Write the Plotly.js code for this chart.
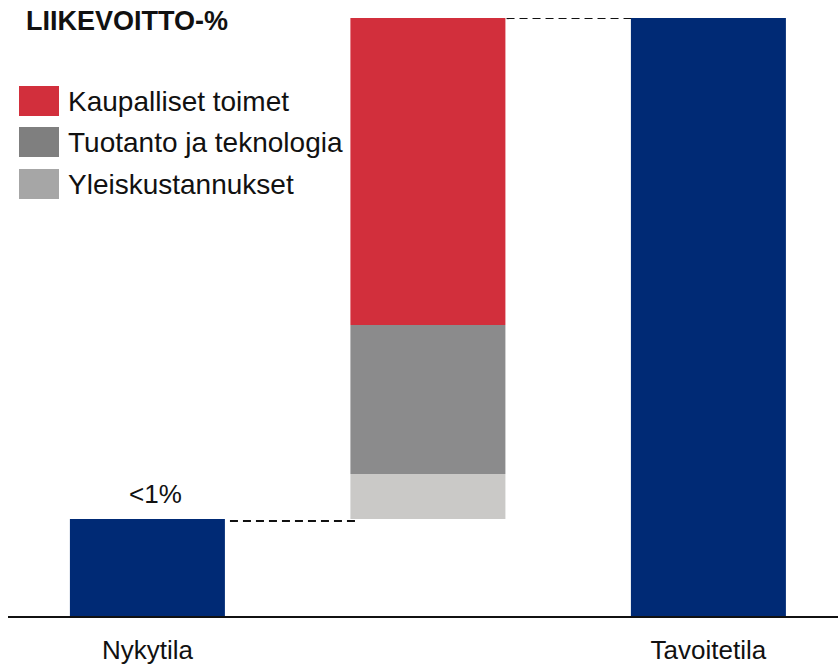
<!DOCTYPE html>
<html>
<head>
<meta charset="utf-8">
<script src="https://cdn.plot.ly/plotly-3.0.1.min.js"></script>
<style>
  html, body { margin: 0; padding: 0; background: #fff; }
  #chart { width: 838px; height: 665px; }
</style>
</head>
<body>
<div id="chart"></div>
<script>
// ---- Data ----
var chartTitle = 'LIIKEVOITTO-%';
var categories = ['Nykytila', '', 'Tavoitetila'];
var currentValue = 0.97;     // Nykytila (<1%)
var targetValue = 5.98;      // Tavoitetila
var stepNames = ['Yleiskustannukset', 'Tuotanto ja teknologia', 'Kaupalliset toimet'];
var stepValues = [0.45, 1.49, 3.07];
var currentLabel = '<1%';

// ---- Styles ----
var navy = '#002a75';
var barColors = ['#cac9c7', '#8b8b8c', '#d22f3c'];
var legendColors = ['#a6a6a6', '#7f7f7f', '#d22f3c'];
var font = 'Liberation Sans, Arial, sans-serif';
var textColor = '#111111';
var W = 0.5526;

var traces = [];
traces.push({
  type: 'bar', x: [0, 2], y: [currentValue, targetValue], base: [0, 0],
  width: W, marker: {color: navy, line: {width: 0}}, showlegend: false, hoverinfo: 'none'
});
var cum = currentValue;
for (var i = 0; i < stepValues.length; i++) {
  traces.push({
    type: 'bar', x: [1], y: [stepValues[i]], base: [cum], name: stepNames[i],
    width: W, marker: {color: barColors[i], line: {width: 0}}, showlegend: false, hoverinfo: 'none'
  });
  cum += stepValues[i];
}

var shapes = [
  {type: 'line', xref: 'x', yref: 'y', x0: W / 2 + 0.018, x1: 1 - W / 2 + 0.028,
   y0: currentValue - 0.02, y1: currentValue - 0.02,
   line: {color: textColor, width: 2.2, dash: '8px,5px'}, layer: 'below'},
  {type: 'line', xref: 'x', yref: 'y', x0: 1 + W / 2 + 0.004, x1: 2 - W / 2 + 0.02,
   y0: targetValue, y1: targetValue,
   line: {color: textColor, width: 2.2, dash: '8px,5px'}, layer: 'below'}
];

var annotations = [
  {xref: 'paper', yref: 'paper', x: (24 - 8) / 830, y: (616 - 38) / 598, xanchor: 'left', yanchor: 'bottom',
   text: '<b>' + chartTitle + '</b>', showarrow: false, font: {family: font, size: 27, color: textColor}},
  {xref: 'x', yref: 'y', x: 0, y: currentValue, xanchor: 'center', yanchor: 'bottom', xshift: 8, yshift: 8,
   text: currentLabel.replace('<', '&lt;'), showarrow: false, font: {family: font, size: 26, color: textColor}}
];

// legend (drawn manually, top = last series)
var legendRows = [86, 127, 169];
for (var k = 0; k < 3; k++) {
  var idx = 2 - k;
  var rowTop = legendRows[k];
  shapes.push({type: 'rect', xref: 'paper', yref: 'paper',
    x0: (19 - 8) / 830, x1: (59 - 8) / 830,
    y0: (616 - rowTop - 30) / 598, y1: (616 - rowTop) / 598,
    fillcolor: legendColors[idx], line: {width: 0}});
  annotations.push({xref: 'paper', yref: 'paper', x: (66 - 8) / 830, y: (616 - rowTop - 15) / 598,
    xanchor: 'left', yanchor: 'middle', text: stepNames[idx], showarrow: false,
    font: {family: font, size: 28, color: textColor}});
}

var layout = {
  width: 838, height: 665,
  margin: {l: 8, r: 0, t: 18, b: 49, pad: 0},
  paper_bgcolor: '#ffffff', plot_bgcolor: '#ffffff',
  barmode: 'overlay',
  showlegend: false,
  xaxis: {
    range: [-0.497, 2.462], tickvals: [0, 1, 2], ticktext: categories,
    showgrid: false, zeroline: false, showline: true, linecolor: textColor, linewidth: 2,
    ticks: '', ticklabelstandoff: 10,
    tickfont: {family: font, size: 26, color: textColor}, fixedrange: true
  },
  yaxis: {
    range: [0, targetValue], showgrid: false, zeroline: false, showline: false,
    showticklabels: false, ticks: '', fixedrange: true
  },
  shapes: shapes,
  annotations: annotations,
  font: {family: font, color: textColor}
};

Plotly.newPlot('chart', traces, layout, {displayModeBar: false, staticPlot: true});
</script>
</body>
</html>
